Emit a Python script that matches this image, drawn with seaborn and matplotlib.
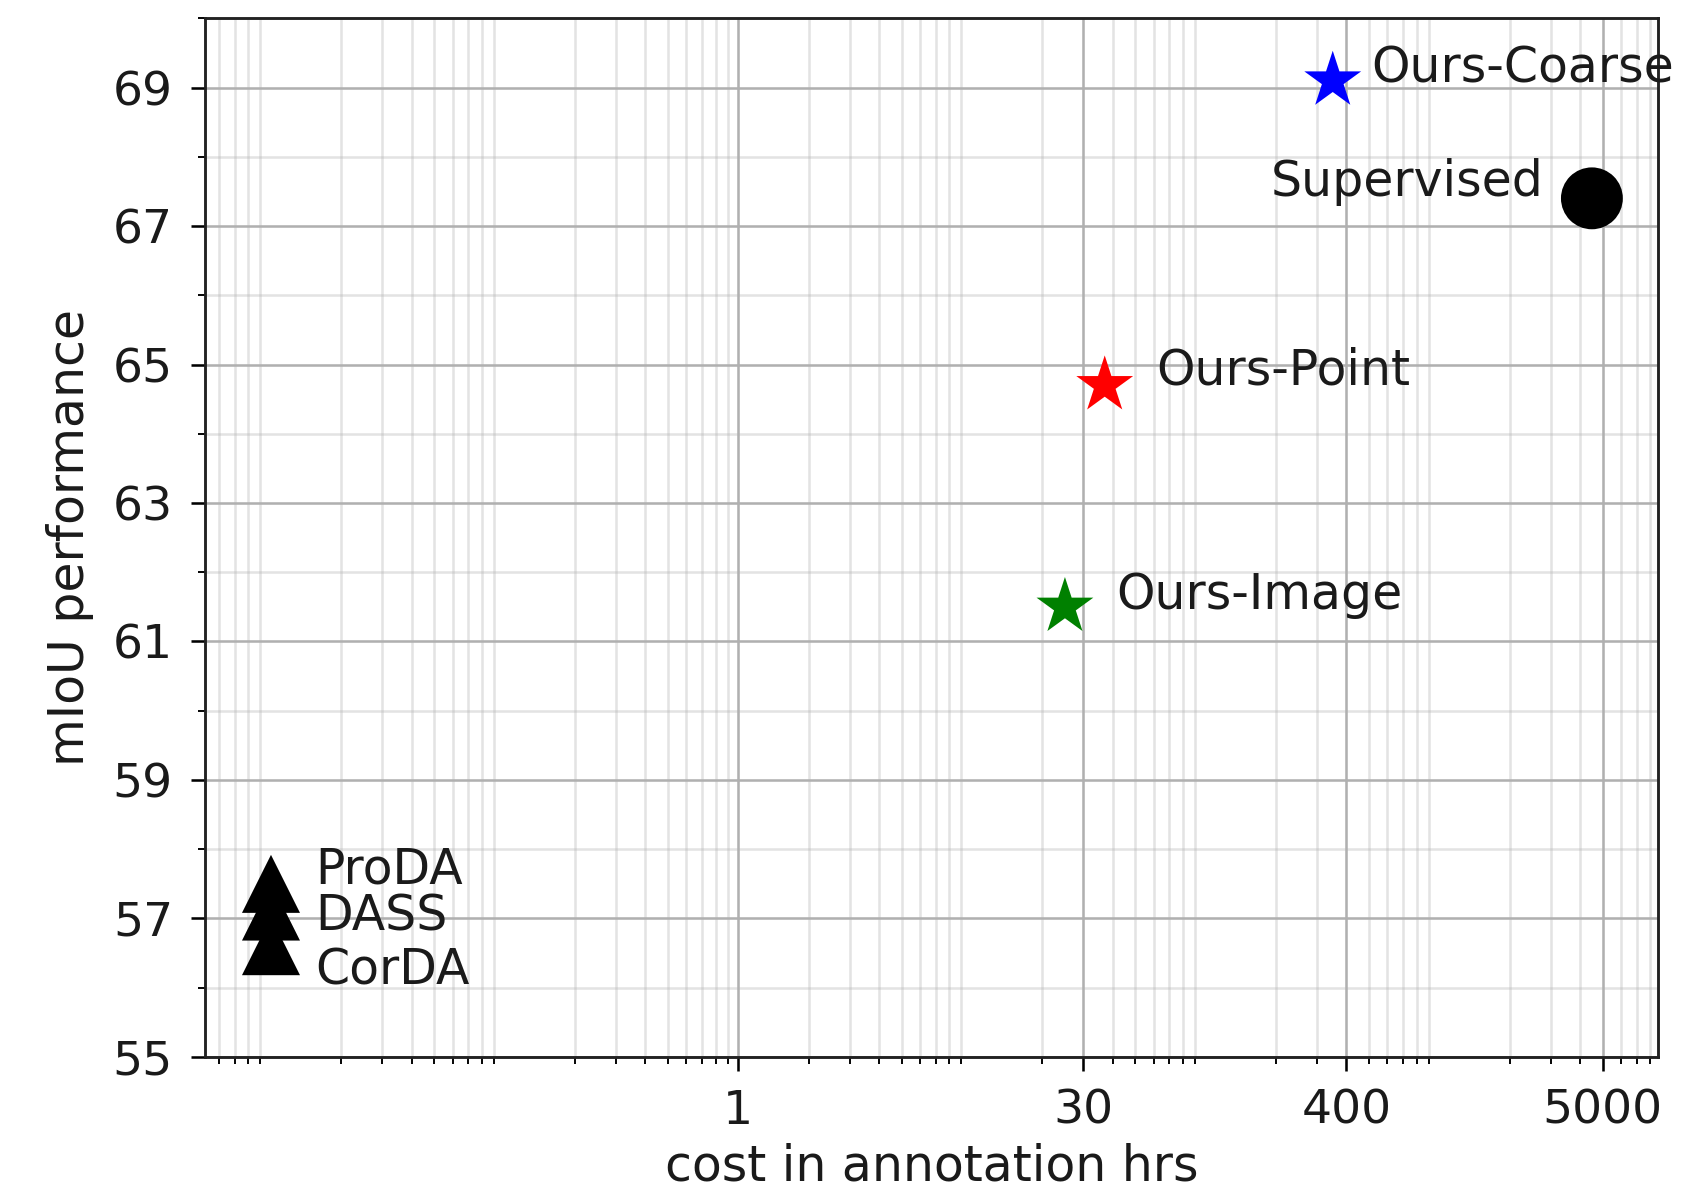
import matplotlib
matplotlib.use("Agg")
import matplotlib.pyplot as plt
from matplotlib.ticker import (FixedLocator, FixedFormatter, LogLocator,
                               MultipleLocator, NullFormatter)
import pandas as pd
import seaborn as sns

# Methods compared: annotation cost (hours) vs. segmentation mIoU
methods = ["ProDA", "DASS", "CorDA", "Ours-Image", "Ours-Point", "Ours-Coarse", "Supervised"]
annotation_hours = [0.01, 0.01, 0.01, 25, 37, 350, 4500]
miou = [57.5, 57.1, 56.6, 61.5, 64.7, 69.1, 67.4]

x_tick_values = [1, 30, 400, 5000]
x_tick_labels = ["1", "30", "400", "5000"]
y_tick_values = [55, 57, 59, 61, 63, 65, 67, 69]

# Styling per method
method_colors = {
    "ProDA": "black", "DASS": "black", "CorDA": "black",
    "Ours-Image": "green", "Ours-Point": "red", "Ours-Coarse": "blue",
    "Supervised": "black",
}
method_markers = {
    "ProDA": "^", "DASS": "^", "CorDA": "^",
    "Ours-Image": "*", "Ours-Point": "*", "Ours-Coarse": "*",
    "Supervised": "o",
}
marker_area = {
    "ProDA": 330, "DASS": 330, "CorDA": 330,
    "Ours-Image": 350, "Ours-Point": 350, "Ours-Coarse": 350,
    "Supervised": 375,
}
# text offsets in points from each marker, plus horizontal alignment
label_offsets = {
    "ProDA": (14, 0, "left"),
    "DASS": (14, -6, "left"),
    "CorDA": (14, -12, "left"),
    "Ours-Image": (16, -0.6, "left"),
    "Ours-Point": (16, 0.3, "left"),
    "Ours-Coarse": (12, -0.6, "left"),
    "Supervised": (-15, 0.6, "right"),
}

TEXT_SIZE = 15.3
TICK_SIZE = 14.8

df = pd.DataFrame({"method": methods, "cost": annotation_hours, "miou": miou})

DPI = 230
fig = plt.figure(figsize=(1705 / DPI, 1188 / DPI), dpi=DPI)
ax = fig.add_axes([0.1202, 0.1103, 0.8522, 0.8743])
ax.set_xscale("log")

sns.scatterplot(
    data=df, x="cost", y="miou",
    hue="method", style="method", size="method",
    palette=method_colors, markers=method_markers, sizes=marker_area,
    linewidth=0, legend=False, ax=ax, zorder=3,
)

for _, row in df.iterrows():
    dx, dy, ha = label_offsets[row["method"]]
    ax.annotate(row["method"], (row["cost"], row["miou"]),
                xytext=(dx, dy), textcoords="offset points",
                ha=ha, va="baseline", fontsize=TEXT_SIZE, color="#1a1a1a",
                annotation_clip=False)

ax.set_ylim(55, 70)

ax.xaxis.set_major_locator(FixedLocator(x_tick_values))
ax.xaxis.set_major_formatter(FixedFormatter(x_tick_labels))
ax.xaxis.set_minor_locator(LogLocator(base=10, subs=range(2, 10), numticks=50))
ax.xaxis.set_minor_formatter(NullFormatter())
ax.yaxis.set_major_locator(FixedLocator(y_tick_values))
ax.yaxis.set_minor_locator(MultipleLocator(1))

ax.grid(which="major", color="#b0b0b0", linewidth=0.8)
ax.grid(which="minor", color="#b0b0b0", alpha=0.35, linewidth=0.8)
ax.set_axisbelow(True)

ax.tick_params(which="major", length=4.5, width=0.8, pad=5.5, labelsize=TICK_SIZE,
               labelcolor="#1a1a1a")
ax.tick_params(which="minor", length=2.2, width=0.6)
for spine in ax.spines.values():
    spine.set_linewidth(0.9)
    spine.set_color("#222222")

ax.set_xlabel("cost in annotation hrs", fontsize=TEXT_SIZE, labelpad=2.8, color="#1a1a1a")
ax.set_ylabel("mIoU performance", fontsize=TEXT_SIZE, labelpad=6, color="#1a1a1a")

fig.savefig("out.png", dpi=DPI)
